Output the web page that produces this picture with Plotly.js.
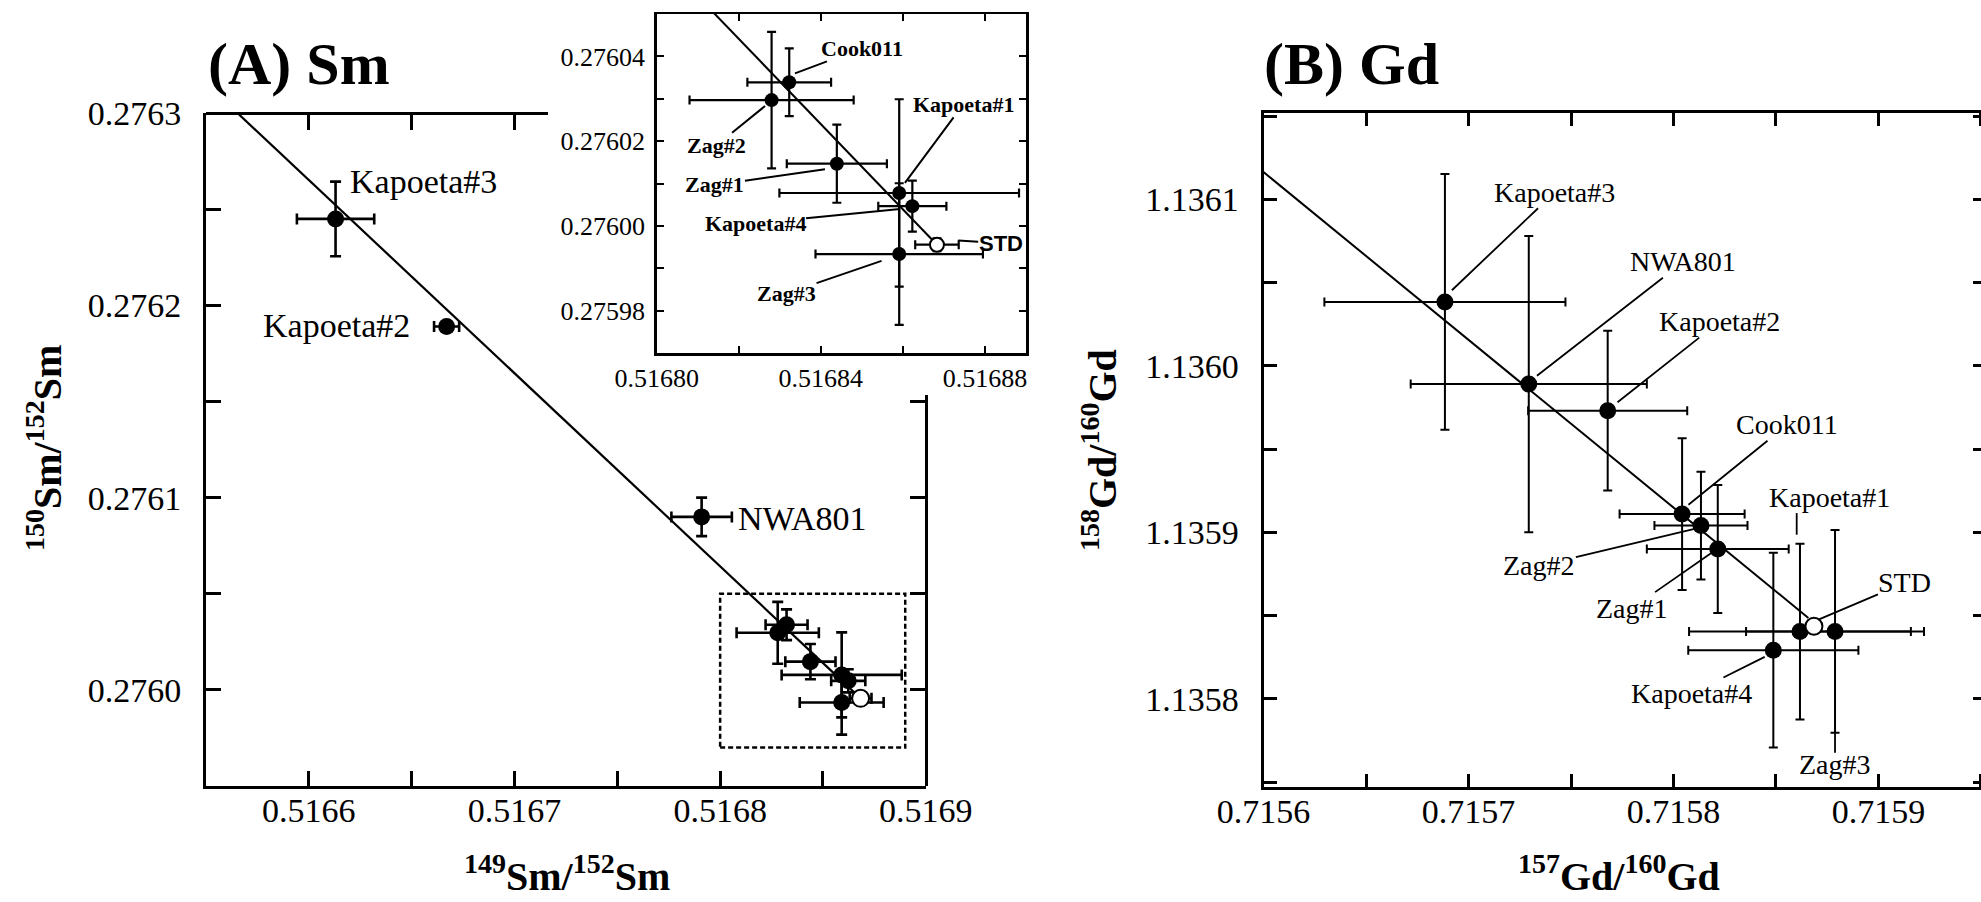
<!DOCTYPE html>
<html><head><meta charset="utf-8">
<script src="https://cdn.plot.ly/plotly-3.0.1.min.js"></script>
<style>html,body{margin:0;padding:0;overflow:hidden;background:#fff;} #chart{width:1990px;height:902px;}</style>
</head><body><div id="chart"></div>
<script>
// ---------- Panel A : Sm ----------
const smNames = ['Kapoeta#3','Kapoeta#2','NWA801','Zag#2','Cook011','Zag#1','Kapoeta#1','Kapoeta#4','Zag#3','STD'];
const smX    = [0.516613, 0.516667, 0.516791, 0.516828, 0.5168323, 0.5168439, 0.5168591, 0.5168623, 0.5168591, 0.5168683];
const smY    = [0.276245, 0.276189, 0.276090, 0.2760297, 0.2760339, 0.2760147, 0.2760078, 0.2760047, 0.2759934, 0.2759956];
const smXErr = [0.0000188, 0.0000061, 0.0000147, 0.0000200, 0.0000102, 0.0000122, 0.0000292, 0.0000083, 0.0000204, 0.0000053];
const smYErr = [0.0000194, 0.0000020, 0.0000100, 0.0000161, 0.0000080, 0.0000092, 0.0000221, 0.0000060, 0.0000167, 0.0000015];
const smFitX = [0.5165654, 0.5168683];
const smFitY = [0.2763, 0.2759956];

// ---------- Panel B : Gd ----------
const gdNames = ['Kapoeta#3','NWA801','Kapoeta#2','Cook011','Zag#2','Zag#1','Kapoeta#4','Kapoeta#1','Zag#3','STD'];
const gdX    = [0.7156885, 0.7157294, 0.7157679, 0.7158042, 0.7158134, 0.7158216, 0.7158487, 0.7158617, 0.7158788, 0.7158685];
const gdY    = [1.1360385, 1.1359891, 1.1359731, 1.1359110, 1.1359041, 1.1358900, 1.1358292, 1.1358404, 1.1358405, 1.1358436];
const gdXErr = [0.0000588, 0.0000576, 0.0000388, 0.0000305, 0.0000227, 0.0000346, 0.0000415, 0.0000541, 0.0000434, 0.0000030];
const gdYErr = [0.0000768, 0.0000890, 0.0000480, 0.0000456, 0.0000324, 0.0000384, 0.0000585, 0.0000528, 0.0000609, 0.0000020];
const gdFitX = [0.7156, 0.7158658];
const gdFitY = [1.1361165, 1.1358486];

// inset window (zoom of Panel A)
const insetXRange = [0.5168, 0.51689];
const insetYRange = [0.27597, 0.27605];

const W = 1990, H = 902;
const SERIF = '"Liberation Serif", "Times New Roman", Times, serif';
const SANS = '"Liberation Sans", Arial, sans-serif';
const px = v => v / W, py = v => 1 - v / H;

function pointTraces(names, xs, ys, xe, ye, xa, ya, size, thick, capw) {
  const idxF = [], idxO = [];
  names.forEach((n, i) => (n === 'STD' ? idxO : idxF).push(i));
  const mk = (idx, open) => ({
    type: 'scatter', mode: 'markers', xaxis: xa, yaxis: ya, showlegend: false, hoverinfo: 'skip',
    x: idx.map(i => xs[i]), y: idx.map(i => ys[i]), text: idx.map(i => names[i]),
    error_x: {type: 'data', array: idx.map(i => xe[i]), visible: true, color: 'black', thickness: thick, width: capw},
    error_y: {type: 'data', array: idx.map(i => ye[i]), visible: true, color: 'black', thickness: thick, width: capw},
    marker: open ? {size: size, color: 'white', line: {color: 'black', width: 2}} : {size: size, color: 'black', line: {width: 0}}
  });
  return [mk(idxF, false), mk(idxO, true)];
}
const fitTrace = (x, y, xa, ya, w) => ({type: 'scatter', mode: 'lines', x: x, y: y, xaxis: xa, yaxis: ya,
  line: {color: 'black', width: w}, showlegend: false, hoverinfo: 'skip', cliponaxis: true});

const data = [
  fitTrace(smFitX, smFitY, 'x', 'y', 2.2),
  ...pointTraces(smNames, smX, smY, smXErr, smYErr, 'x', 'y', 17, 2.6, 5.5),
  fitTrace(gdFitX, gdFitY, 'x2', 'y2', 2),
  ...pointTraces(gdNames, gdX, gdY, gdXErr, gdYErr, 'x2', 'y2', 17, 2, 4.5),
  fitTrace(smFitX, smFitY, 'x3', 'y3', 2),
  ...pointTraces(smNames, smX, smY, smXErr, smYErr, 'x3', 'y3', 14, 2.2, 4.5),
  {type: 'scatter', mode: 'markers', x: [], y: [], xaxis: 'x4', yaxis: 'y4', showlegend: false, hoverinfo: 'skip'}
];

function ax(extra) {
  return Object.assign({showline: true, linecolor: 'black', linewidth: 3, ticks: 'inside', tickcolor: 'black',
    tickwidth: 3, ticklen: 15, showgrid: false, zeroline: false, autorange: false, fixedrange: true,
    tickfont: {family: SERIF, size: 34, color: 'black'}}, extra);
}
const minor = (d, len, w) => ({ticks: 'inside', ticklen: len, tickwidth: w, tickcolor: 'black', dtick: d, showgrid: false});

const annotations = [];
const lbl = (o) => annotations.push(Object.assign({showarrow: false}, o));

// panel titles
lbl({text: '<b>(A) Sm</b>', xref: 'paper', yref: 'paper', x: px(206), y: py(64), xanchor: 'left', yanchor: 'middle', font: {family: SERIF, size: 60, color: 'black'}});
lbl({text: '<b>(B) Gd</b>', xref: 'paper', yref: 'paper', x: px(1262), y: py(64), xanchor: 'left', yanchor: 'middle', font: {family: SERIF, size: 60, color: 'black'}});
// axis titles
const tf = {family: SERIF, size: 40, color: 'black'};
lbl({text: '<b><sup>149</sup>Sm/<sup>152</sup>Sm</b>', xref: 'paper', yref: 'paper', x: px(567), y: py(901), xanchor: 'center', yanchor: 'bottom', font: tf});
lbl({text: '<b><sup>150</sup>Sm/<sup>152</sup>Sm</b>', xref: 'paper', yref: 'paper', x: px(44), y: py(448), xanchor: 'center', yanchor: 'middle', textangle: -90, font: tf});
lbl({text: '<b><sup>157</sup>Gd/<sup>160</sup>Gd</b>', xref: 'paper', yref: 'paper', x: px(1619), y: py(901), xanchor: 'center', yanchor: 'bottom', font: tf});
lbl({text: '<b><sup>158</sup>Gd/<sup>160</sup>Gd</b>', xref: 'paper', yref: 'paper', x: px(1099), y: py(450), xanchor: 'center', yanchor: 'middle', textangle: -90, font: tf});

// Panel A main labels
const fA = {family: SERIF, size: 34, color: 'black'};
lbl({text: 'Kapoeta#3', xref: 'x', yref: 'y', x: 0.516619, y: 0.2762643, xanchor: 'left', yanchor: 'middle', font: fA});
lbl({text: 'Kapoeta#2', xref: 'x', yref: 'y', x: 0.51665, y: 0.2761897, xanchor: 'right', yanchor: 'middle', font: fA});
lbl({text: 'NWA801', xref: 'x', yref: 'y', x: 0.5168079, y: 0.2760892, xanchor: 'left', yanchor: 'middle', font: fA});

// inset labels with leader lines
const fI = {family: SERIF, size: 22, color: 'black'};
const insetLbl = [
  ['Cook011', 0.5168337, 0.2760360, 66.7, -25, fI],
  ['Zag#2', 0.5168264, 0.2760283, -49, 39.7, fI],
  ['Zag#1', 0.5168410, 0.2760134, -110, 15.7, fI],
  ['Kapoeta#1', 0.5168605, 0.2760102, 58.3, -78.4, fI],
  ['Kapoeta#4', 0.5168593, 0.2760040, -145, 14, fI],
  ['STD', 0.5168735, 0.2759966, 42.4, 2.6, {family: SANS, size: 22, color: 'black'}],
  ['Zag#3', 0.5168548, 0.2759918, -95, 32.6, fI]
];
insetLbl.forEach(([t, x, y, dx, dy, f]) => annotations.push({text: '<b>' + t + '</b>', xref: 'x3', yref: 'y3', x: x, y: y,
  ax: dx, ay: dy, showarrow: true, arrowhead: 0, arrowwidth: 2, arrowcolor: 'black', standoff: 0, font: f, borderpad: 0}));

// Panel B labels
const fB = {family: SERIF, size: 28, color: 'black'};
const gdLbl = [
  ['Kapoeta#3', 0.7156919, 1.1360455, 103, -98],
  ['NWA801', 0.7157334, 1.1359941, 146.5, -114],
  ['Kapoeta#2', 0.7157727, 1.1359782, 102, -80.6],
  ['Cook011', 0.7158073, 1.1359166, 98.8, -80],
  ['Zag#2', 0.7158118, 1.1359026, -158.3, 37.7],
  ['Zag#1', 0.7158195, 1.1358885, -81.4, 56.6],
  ['STD', 0.7158707, 1.1358476, 86.5, -36.7],
  ['Kapoeta#4', 0.7158445, 1.1358252, -73.2, 36.7]
];
gdLbl.forEach(([t, x, y, dx, dy]) => annotations.push({text: t, xref: 'x2', yref: 'y2', x: x, y: y,
  ax: dx, ay: dy, showarrow: true, arrowhead: 0, arrowwidth: 1.8, arrowcolor: 'black', standoff: 0, font: fB, borderpad: 0}));
lbl({text: 'Kapoeta#1', xref: 'x2', yref: 'y2', x: 0.7158763, y: 1.1359212, xanchor: 'center', yanchor: 'middle', font: fB});
lbl({text: 'Zag#3', xref: 'x2', yref: 'y2', x: 0.7158790, y: 1.1357606, xanchor: 'center', yanchor: 'middle', font: fB});

const shapes = [
  {type: 'rect', xref: 'x', yref: 'y', x0: insetXRange[0], x1: insetXRange[1], y0: insetYRange[0], y1: insetYRange[1],
   line: {color: 'black', width: 2.5, dash: '5px,3px'}, fillcolor: 'rgba(0,0,0,0)'},
  {type: 'line', xref: 'x2', yref: 'y2', x0: 0.7158601, x1: 0.7158601, y0: 1.1359116, y1: 1.1358986, line: {color: 'black', width: 1.8}},
  {type: 'line', xref: 'x2', yref: 'y2', x0: 0.7158788, x1: 0.7158788, y0: 1.1357802, y1: 1.1357676, line: {color: 'black', width: 1.8}}
];

const layout = {
  width: W, height: H, margin: {l: 0, r: 0, t: 0, b: 0}, autosize: false,
  paper_bgcolor: 'white', plot_bgcolor: 'rgba(0,0,0,0)', showlegend: false,
  xaxis: ax({domain: [px(206), px(926)], range: [0.51655, 0.5169001], anchor: 'y', tick0: 0.5166, dtick: 0.0001,
    tickformat: '.4f', minor: minor(0.00005, 15, 3), ticklabelstandoff: -8}),
  yaxis: ax({domain: [py(786), py(113)], range: [0.27595, 0.2763001], anchor: 'x', tick0: 0.276, dtick: 0.0001,
    tickformat: '.4f', minor: minor(0.00005, 15, 3), ticklabelstandoff: 15}),
  xaxis2: ax({domain: [px(1263.5), px(1985.5)], range: [0.7156, 0.7159522], anchor: 'y2', mirror: 'allticks', tick0: 0.7156, dtick: 0.0001,
    tickformat: '.4f', minor: minor(0.00005, 13, 3), ticklen: 13, ticklabelstandoff: -8}),
  yaxis2: ax({domain: [py(787), py(113)], range: [1.135747, 1.136152], anchor: 'x2', mirror: 'allticks', tick0: 1.1358, dtick: 0.0001,
    tickformat: '.4f', minor: minor(0.00005, 13, 3), ticklen: 13, ticklabelstandoff: 15}),
  xaxis3: ax({domain: [px(656.7), px(1026)], range: insetXRange, anchor: 'y3', mirror: 'allticks', tick0: 0.5168, dtick: 0.00004,
    tickformat: '.5f', minor: minor(0.00002, 7, 2), ticklen: 7, tickwidth: 2, linewidth: 2.5, ticklabelstandoff: 0,
    tickfont: {family: SERIF, size: 26, color: 'black'}}),
  yaxis3: ax({domain: [py(353.3), py(14)], range: insetYRange, anchor: 'x3', mirror: 'allticks', tick0: 0.27598, dtick: 0.00002,
    tickformat: '.5f', minor: minor(0.00001, 7, 2), ticklen: 7, tickwidth: 2, linewidth: 2.5, ticklabelstandoff: 4,
    tickfont: {family: SERIF, size: 26, color: 'black'}}),
  xaxis4: ax({domain: [px(206), px(548)], range: [0.51655, 0.51655 + 342 / 720 * 0.00035], anchor: 'free', position: py(113), side: 'top',
    tick0: 0.5166, dtick: 0.00005, showticklabels: false}),
  yaxis4: ax({domain: [py(786), py(395)], range: [0.27595, 0.27595 + 391 / 673 * 0.00035], anchor: 'free', position: px(926), side: 'right',
    tick0: 0.276, dtick: 0.00005, showticklabels: false}),
  annotations: annotations,
  shapes: shapes
};

Plotly.newPlot('chart', data, layout, {staticPlot: true, displayModeBar: false});
</script>
</body></html>
